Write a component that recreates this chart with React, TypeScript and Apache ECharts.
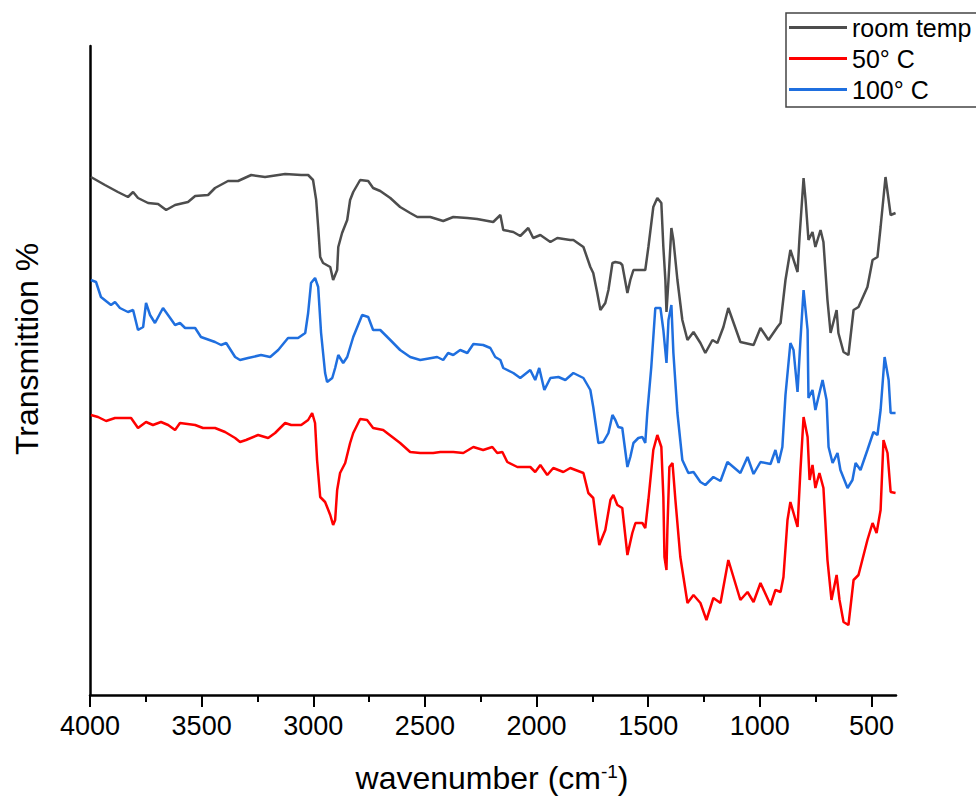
import React, { useEffect, useRef } from "react";
import * as echarts from "echarts";

const seriesNames = ["room temp", "50° C", "100° C"];
const seriesColors = ["#4d4d4d", "#ff0000", "#1f6fdf"];

const majorTicks = [4000, 3500, 3000, 2500, 2000, 1500, 1000, 500];
const minorTicks = [3750, 3250, 2750, 2250, 1750, 1250, 750];

const roomTemp: number[][] = [
  [3996, 518], [3933, 510], [3875, 503], [3830, 498], [3807, 503], [3785, 497], [3740, 492],
  [3695, 491], [3659, 485], [3619, 490], [3561, 493], [3529, 499], [3471, 500], [3440, 507],
  [3382, 514], [3337, 514], [3278, 520], [3216, 518], [3126, 521], [3054, 520], [3023, 520],
  [3001, 515], [2987, 495], [2978, 468], [2969, 438], [2956, 432], [2924, 428], [2911, 415],
  [2893, 425], [2888, 448], [2871, 462], [2848, 475], [2835, 495], [2821, 503], [2790, 515],
  [2754, 514], [2732, 507], [2700, 504], [2655, 497], [2611, 488], [2566, 482], [2534, 478],
  [2476, 478], [2418, 474], [2373, 478], [2310, 477], [2266, 476], [2194, 473], [2162, 480],
  [2149, 465], [2104, 463], [2073, 459], [2037, 467], [2015, 457], [1983, 460], [1938, 453],
  [1907, 457], [1849, 455], [1835, 455], [1790, 448], [1759, 428], [1746, 422], [1728, 402],
  [1714, 385], [1692, 392], [1678, 405], [1660, 432], [1647, 433], [1625, 432], [1616, 430],
  [1593, 402], [1580, 415], [1566, 425], [1513, 425], [1499, 448], [1477, 488], [1459, 497],
  [1441, 492], [1432, 448], [1423, 415], [1418, 383], [1409, 415], [1396, 467], [1387, 455],
  [1369, 415], [1347, 375], [1324, 355], [1297, 363], [1266, 352], [1244, 342], [1212, 355],
  [1190, 352], [1163, 368], [1141, 387], [1087, 353], [1028, 350], [997, 367], [961, 355],
  [921, 368], [907, 372], [885, 415], [863, 445], [831, 423], [822, 458], [804, 517],
  [795, 495], [782, 455], [764, 463], [751, 448], [728, 465], [715, 453], [697, 395],
  [683, 362], [656, 385], [648, 362], [625, 343], [603, 340], [580, 385], [558, 388],
  [518, 408], [495, 435], [473, 438], [459, 468], [437, 518], [423, 495], [414, 480], [392, 482],
];

const temp50: number[][] = [
  [3996, 280], [3964, 278], [3928, 274], [3888, 277], [3843, 277], [3816, 277], [3785, 267],
  [3749, 273], [3718, 270], [3682, 273], [3650, 270], [3619, 265], [3597, 272], [3529, 270],
  [3494, 267], [3440, 267], [3395, 263], [3350, 257], [3328, 253], [3301, 255], [3247, 260],
  [3202, 257], [3171, 262], [3126, 272], [3099, 270], [3054, 270], [3023, 275], [3005, 282],
  [2992, 272], [2983, 235], [2969, 198], [2947, 193], [2938, 188], [2924, 180], [2911, 170],
  [2902, 175], [2893, 205], [2880, 222], [2857, 232], [2835, 252], [2821, 262], [2790, 276],
  [2759, 275], [2732, 267], [2687, 265], [2646, 258], [2611, 252], [2566, 243], [2521, 242],
  [2463, 242], [2431, 243], [2373, 243], [2328, 242], [2283, 248], [2239, 245], [2198, 248],
  [2176, 242], [2153, 243], [2131, 233], [2086, 228], [2028, 228], [2006, 223], [1983, 230],
  [1952, 220], [1925, 227], [1880, 223], [1849, 227], [1790, 222], [1768, 202], [1746, 197],
  [1728, 165], [1719, 150], [1692, 165], [1669, 195], [1656, 200], [1638, 190], [1616, 187],
  [1593, 140], [1571, 162], [1557, 172], [1526, 172], [1513, 167], [1499, 195], [1477, 245],
  [1459, 260], [1441, 248], [1432, 198], [1427, 138], [1418, 125], [1414, 165], [1405, 228],
  [1391, 232], [1378, 195], [1356, 138], [1324, 92], [1297, 100], [1266, 92], [1239, 75],
  [1208, 97], [1176, 92], [1141, 135], [1087, 95], [1055, 103], [1028, 93], [997, 112],
  [952, 90], [930, 105], [907, 103], [894, 118], [876, 175], [863, 193], [831, 168],
  [818, 225], [804, 278], [786, 258], [777, 215], [764, 230], [751, 207], [733, 222],
  [715, 207], [697, 135], [679, 95], [656, 120], [643, 95], [625, 73], [603, 70],
  [580, 115], [558, 120], [518, 155], [495, 172], [477, 162], [459, 185], [446, 255],
  [428, 242], [414, 203], [392, 202],
];

const temp100: number[][] = [
  [3996, 415], [3973, 413], [3951, 398], [3906, 390], [3888, 393], [3866, 387], [3830, 383],
  [3807, 385], [3785, 365], [3762, 368], [3749, 392], [3731, 380], [3709, 372], [3673, 387],
  [3641, 377], [3619, 370], [3597, 372], [3574, 367], [3529, 367], [3503, 358], [3440, 353],
  [3413, 350], [3390, 352], [3350, 338], [3328, 335], [3292, 337], [3234, 340], [3193, 338],
  [3157, 345], [3113, 357], [3068, 357], [3036, 362], [3023, 382], [3010, 412], [2992, 417],
  [2978, 408], [2965, 362], [2947, 322], [2938, 313], [2915, 317], [2902, 327], [2888, 340],
  [2866, 332], [2848, 338], [2821, 358], [2781, 380], [2754, 378], [2732, 365], [2700, 365],
  [2655, 355], [2611, 345], [2566, 338], [2521, 335], [2445, 338], [2418, 335], [2396, 342],
  [2373, 340], [2342, 345], [2310, 342], [2283, 351], [2239, 350], [2207, 347], [2185, 338],
  [2162, 335], [2149, 327], [2104, 322], [2073, 317], [2028, 325], [2006, 315], [1988, 327],
  [1965, 305], [1938, 317], [1902, 318], [1871, 315], [1835, 322], [1790, 317], [1759, 305],
  [1746, 288], [1723, 252], [1701, 253], [1678, 262], [1660, 280], [1647, 275], [1634, 268],
  [1616, 267], [1593, 228], [1580, 238], [1566, 252], [1544, 257], [1526, 258], [1513, 252],
  [1504, 282], [1486, 328], [1468, 387], [1445, 387], [1432, 365], [1418, 332], [1409, 375],
  [1396, 390], [1387, 342], [1369, 282], [1347, 235], [1320, 222], [1297, 223], [1266, 213],
  [1244, 210], [1208, 218], [1176, 214], [1145, 233], [1087, 222], [1055, 238], [1028, 221],
  [997, 233], [952, 231], [930, 245], [916, 232], [899, 248], [885, 300], [863, 352],
  [849, 345], [831, 303], [818, 355], [804, 405], [786, 365], [782, 297], [764, 305],
  [751, 285], [719, 315], [701, 295], [692, 248], [674, 232], [652, 242], [639, 225],
  [607, 207], [585, 215], [571, 232], [549, 225], [518, 245], [491, 263], [473, 260],
  [459, 285], [441, 338], [423, 315], [414, 282], [392, 282],
];

const FONT = "Liberation Sans, Arial, sans-serif";

export default function App() {
  const ref = useRef<HTMLDivElement>(null);
  useEffect(() => {
    if (!ref.current) return;
    const chart = echarts.init(ref.current, undefined, { renderer: "svg" });
    const datasets = [roomTemp, temp50, temp100];
    chart.setOption({
      animation: false,
      backgroundColor: "#ffffff",
      grid: { left: 90, right: 80, top: 46, bottom: 105, containLabel: false },
      xAxis: [
        {
          type: "value",
          min: 390,
          max: 4000,
          inverse: true,
          position: "bottom",
          axisLine: { show: true, lineStyle: { color: "#000", width: 2.5 } },
          axisTick: {
            show: true,
            customValues: majorTicks,
            length: 12,
            inside: false,
            lineStyle: { color: "#000", width: 2 },
          },
          axisLabel: {
            show: true,
            customValues: majorTicks,
            formatter: (v: number) => String(v),
            color: "#000",
            fontSize: 27,
            fontFamily: FONT,
            margin: 17,
          },
          splitLine: { show: false },
        },
        {
          type: "value",
          min: 390,
          max: 4000,
          inverse: true,
          position: "bottom",
          offset: 0,
          axisLine: { show: false },
          axisTick: {
            show: true,
            customValues: minorTicks,
            length: 7,
            lineStyle: { color: "#000", width: 2 },
          },
          axisLabel: { show: false },
          splitLine: { show: false },
        },
      ],
      yAxis: {
        type: "value",
        min: 0,
        max: 649,
        axisLine: { show: true, lineStyle: { color: "#000", width: 2.5 } },
        axisTick: { show: false },
        axisLabel: { show: false },
        splitLine: { show: false },
      },
      legend: {
        orient: "vertical",
        left: 789,
        top: 15,
        icon: "rect",
        itemWidth: 58,
        itemHeight: 3,
        itemGap: 6,
        padding: 0,
        textStyle: { fontSize: 25, fontFamily: FONT, color: "#000" },
        data: seriesNames,
      },
      graphic: [
        {
          type: "rect",
          shape: { x: 786, y: 13, width: 220, height: 94 },
          style: { fill: "none", stroke: "#444", lineWidth: 1.5 },
          z: 10,
        },
        {
          type: "text",
          x: 27,
          y: 349,
          rotation: Math.PI / 2,
          style: {
            text: "Transmittion %",
            fontSize: 32,
            fontFamily: FONT,
            fill: "#000",
            align: "center",
            verticalAlign: "middle",
          },
        },
        {
          type: "text",
          x: 492,
          y: 778,
          style: {
            text: "wavenumber (cm{sup|-1})",
            fontSize: 32,
            fontFamily: FONT,
            fill: "#000",
            align: "center",
            verticalAlign: "middle",
            rich: {
              sup: { fontSize: 19, fontFamily: FONT, fill: "#000", verticalAlign: "top", padding: [0, 0, 12, 0] },
            },
          },
        },
      ],
      series: datasets.map((d, i) => ({
        name: seriesNames[i],
        type: "line",
        xAxisIndex: 0,
        data: d,
        symbol: "none",
        showSymbol: false,
        color: seriesColors[i],
        lineStyle: { color: seriesColors[i], width: 2.5 },
      })),
    });
    return () => chart.dispose();
  }, []);
  return (
    <div
      ref={ref}
      style={{ position: "fixed", left: 0, top: 0, width: 976, height: 800 }}
    />
  );
}
